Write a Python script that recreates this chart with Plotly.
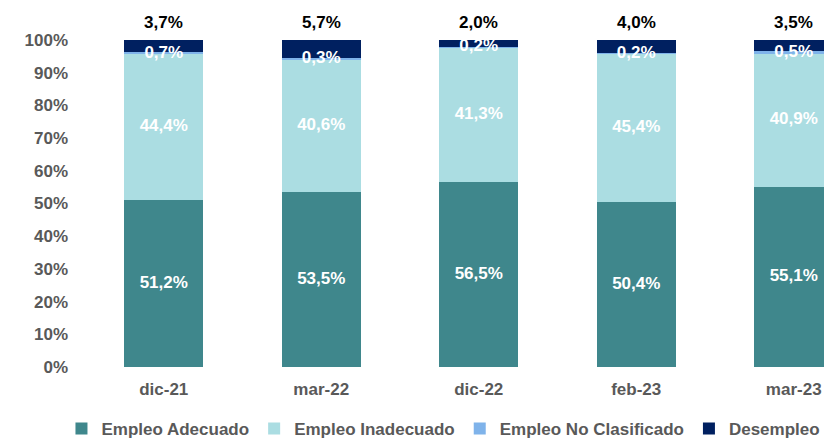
import plotly.graph_objects as go

categories = ["dic-21", "mar-22", "dic-22", "feb-23", "mar-23"]
adecuado = [51.2, 53.5, 56.5, 50.4, 55.1]
inadecuado = [44.4, 40.6, 41.3, 45.4, 40.9]
no_clasificado = [0.7, 0.3, 0.2, 0.2, 0.5]
desempleo = [3.7, 5.7, 2.0, 4.0, 3.5]

series = [
    ("Empleo Adecuado", adecuado, "#3F878C"),
    ("Empleo Inadecuado", inadecuado, "#ABDDE2"),
    ("Empleo No Clasificado", no_clasificado, "#7FB3EA"),
    ("Desempleo", desempleo, "#002060"),
]

FONT = "Liberation Sans, Arial, sans-serif"

def fmt(v):
    return f"{v:.1f}".replace(".", ",") + "%"

fig = go.Figure()
for name, vals, col in series:
    fig.add_trace(go.Bar(
        x=categories, y=vals, name=name, marker_color=col,
        marker_line_width=0, width=0.5, hoverinfo="skip",
    ))

# label positions from stacked data
base = [0.0] * len(categories)
centers = []
for name, vals, col in series:
    centers.append([b + v / 2 for b, v in zip(base, vals)])
    base = [b + v for b, v in zip(base, vals)]

for i, (name, vals, col) in enumerate(series[:3]):
    fig.add_trace(go.Scatter(
        x=categories, y=centers[i], mode="text",
        text=[fmt(v) for v in vals], showlegend=False, cliponaxis=False,
        textfont=dict(family=FONT, size=17, color="white", weight="bold"),
        hoverinfo="skip",
    ))

# Desempleo labels above the stacks
for c, tot, v in zip(categories, base, desempleo):
    fig.add_annotation(
        x=c, y=min(tot, 100), text=fmt(v), showarrow=False,
        yanchor="bottom", yshift=6,
        font=dict(family=FONT, size=17, color="black", weight="bold"),
    )

fig.update_layout(
    barmode="stack",
    width=824, height=430,
    margin=dict(l=77, r=0, t=32, b=71, autoexpand=False),
    plot_bgcolor="white", paper_bgcolor="white",
    font=dict(family=FONT, size=17, color="#595959", weight="bold"),
    xaxis=dict(range=[-0.5, 4.243], showgrid=False, showline=False, ticks="",
               ticklabelstandoff=10,
               tickfont=dict(family=FONT, size=17, color="#595959", weight="bold")),
    yaxis=dict(range=[0, 100], dtick=10, ticksuffix="%", showgrid=False,
               zeroline=False, showline=False, ticks="", ticklabelstandoff=16,
               tickfont=dict(family=FONT, size=17, color="#595959", weight="bold")),
    legend=dict(orientation="h", x=-0.0315, xanchor="left", y=-0.1345, yanchor="top",
                font=dict(family=FONT, size=17, color="#595959", weight="bold"),
                traceorder="normal", itemwidth=30),
    showlegend=True,
)

fig.write_html("out.html")
